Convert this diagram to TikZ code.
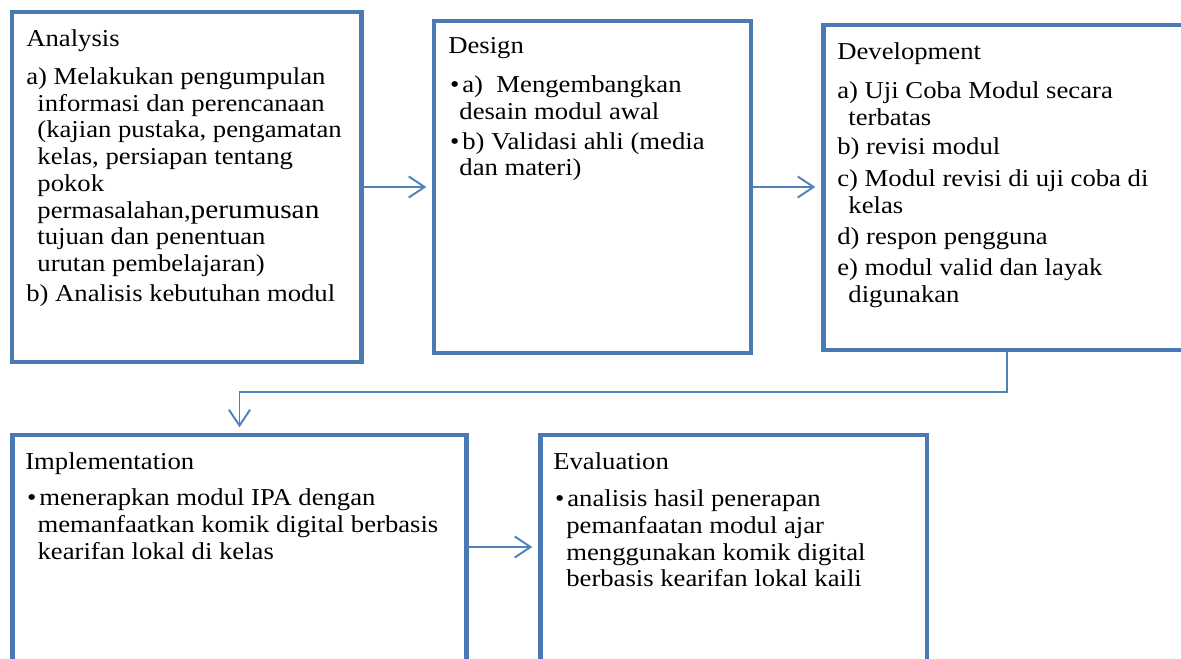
\documentclass[tikz,border=0pt]{standalone}
\usepackage{fontspec}
\setmainfont[FakeStretch=1.1]{Liberation Serif}
\usepackage{graphicx}
\usepackage{tikz}
\usetikzlibrary{arrows.meta,positioning}
\definecolor{addieframe}{RGB}{74,122,180}
\definecolor{addieline}{RGB}{79,129,189}
\newcommand{\cont}{\hspace*{6.3pt}}
\newcommand{\bul}{\makebox[8pt][l]{\hspace{1pt}\textbullet}}

\begin{document}
\begin{tikzpicture}[x=0.02cm, y=-0.02cm, >={Straight Barb[length=9pt,width=12pt]},
  phase/.style={draw=addieframe, line width=2.8pt, rectangle, inner sep=0pt},
  body/.style={anchor=north west, align=left, inner sep=0pt, font=\fontsize{13.8}{15.25}\selectfont},
  line/.style={draw=addieline, ->, line width=1.1pt, shorten >=3pt}
]
  \useasboundingbox (0,0) rectangle (1181,659);
  \clip (0,0) rectangle (1181,659);

  % Phase boxes
  \node [phase, minimum width=6.99cm, minimum height=7cm] (analysis) at (186.75,187) {};
  \node [phase, minimum width=6.34cm, minimum height=6.64cm] (design) at (592.5,187) {};
  \node [phase, minimum width=8.14cm, minimum height=6.5cm] (development) at (1026.5,187.5) {};
  \node [phase, minimum width=9.1cm, minimum height=6.5cm] (implementation) at (239.5,597.5) {};
  \node [phase, minimum width=7.74cm, minimum height=6.5cm] (evaluation) at (733.5,597.5) {};

  % Texts
  \node [body] (analysistext) at (26,29) {Analysis\\[6.4pt]
    a) Melakukan pengumpulan\\
    \cont informasi dan perencanaan\\
    \cont (kajian pustaka, pengamatan\\
    \cont kelas, persiapan tentang\\
    \cont pokok\\
    \cont permasalahan,\scalebox{1.1}{perumusan}\\
    \cont tujuan dan penentuan\\
    \cont urutan pembelajaran)\\[1.7pt]
    b) Analisis kebutuhan modul};

  \node [body] (designtext) at (448,37) {Design\\[7pt]
    \bul a)\ \ Mengembangkan\\
    \cont desain modul awal\\[1.7pt]
    \bul b) Validasi ahli (media\\
    \cont dan materi)};

  \node [body] (developmenttext) at (837,42) {Development\\[7pt]
    a) Uji Coba Modul secara\\
    \cont terbatas\\[1.7pt]
    b) revisi modul\\[2.8pt]
    c) Modul revisi di uji coba di\\
    \cont kelas\\[2.3pt]
    d) respon pengguna\\[2.8pt]
    e) modul valid dan layak\\
    \cont digunakan};

  \node [body] (implementationtext) at (25,452) {Implementation\\[5.7pt]
    \bul menerapkan modul IPA dengan\\
    \hspace*{7pt}memanfaatkan komik digital berbasis\\
    \hspace*{7pt}kearifan lokal di kelas};

  \node [body] (evaluationtext) at (553,452) {Evaluation\\[6pt]
    \bul analisis hasil penerapan\\
    \hspace*{7.4pt}pemanfaatan modul ajar\\
    \hspace*{7.4pt}menggunakan komik digital\\
    \hspace*{7.4pt}berbasis kearifan lokal kaili};

  % Flow
  \draw [line] (analysis) -- (design);
  \draw [line] (design.east) -- (design.east -| development.west);

  % Down to second row
  \coordinate (turn) at (1007,392);
  \draw [line] (development.south -| turn) -- (turn) -| (implementation.north);

  \coordinate (midrow) at (0,547);
  \draw [line] (implementation.east |- midrow) -- (evaluation.west |- midrow);

\end{tikzpicture}
\end{document}
